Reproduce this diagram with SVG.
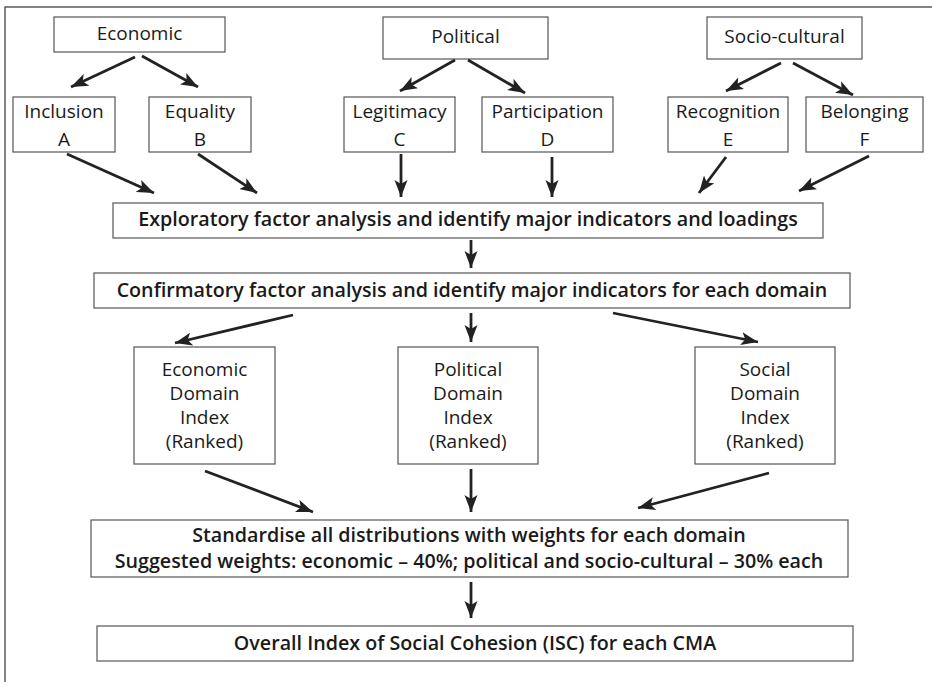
<svg xmlns="http://www.w3.org/2000/svg" width="932" height="682" viewBox="0 0 932 682">
<style>
.box{fill:#fff;stroke:#555;stroke-width:1.2}
.t{font-family:"Open Sans","Liberation Sans",sans-serif;font-size:19px;fill:#1a1a1a;text-anchor:middle}
.b{font-weight:600;font-size:19.7px}
.c{stroke:#222;stroke-width:2.8;fill:none;marker-end:url(#ah)}
</style>
<defs>
<marker id="ah" markerUnits="userSpaceOnUse" markerWidth="20" markerHeight="14" refX="17" refY="6.5" orient="auto">
<path d="M0,0 L17,6.5 L0,13 L4,6.5 z" fill="#222"/>
</marker>
</defs>
<rect x="0" y="0" width="932" height="682" fill="#fff"/>
<rect x="5" y="7" width="940" height="690" fill="none" stroke="#333" stroke-width="1.2"/>

<g id="economic"><rect class="box" x="54" y="17" width="171" height="35"/><text class="t" x="139.5" y="40">Economic</text></g>
<g id="political"><rect class="box" x="383" y="17" width="165" height="42"/><text class="t" x="465.5" y="43">Political</text></g>
<g id="sociocultural"><rect class="box" x="707" y="17" width="155" height="42"/><text class="t" x="784.5" y="43">Socio-cultural</text></g>

<g id="inclusion"><rect class="box" x="13" y="97" width="102" height="55"/><text class="t" x="64" y="118">Inclusion</text><text class="t" x="64" y="146">A</text></g>
<g id="equality"><rect class="box" x="149" y="97" width="102" height="55"/><text class="t" x="200" y="118">Equality</text><text class="t" x="200" y="146">B</text></g>
<g id="legitimacy"><rect class="box" x="344" y="97" width="111" height="55"/><text class="t" x="399.5" y="118">Legitimacy</text><text class="t" x="399.5" y="146">C</text></g>
<g id="participation"><rect class="box" x="482" y="97" width="131" height="55"/><text class="t" x="547.5" y="118">Participation</text><text class="t" x="547.5" y="146">D</text></g>
<g id="recognition"><rect class="box" x="668" y="97" width="120" height="55"/><text class="t" x="728" y="118">Recognition</text><text class="t" x="728" y="146">E</text></g>
<g id="belonging"><rect class="box" x="806" y="97" width="117" height="55"/><text class="t" x="864.5" y="118">Belonging</text><text class="t" x="864.5" y="146">F</text></g>

<g id="exploratory"><rect class="box" x="113" y="203" width="710" height="35"/><text class="t b" x="468" y="226">Exploratory factor analysis and identify major indicators and loadings</text></g>
<g id="confirmatory"><rect class="box" x="94" y="273" width="756" height="35"/><text class="t b" x="472" y="297">Confirmatory factor analysis and identify major indicators for each domain</text></g>

<g id="econdomain"><rect class="box" x="134" y="347" width="141" height="117"/><text class="t" x="204.5" y="376">Economic</text><text class="t" x="204.5" y="400">Domain</text><text class="t" x="204.5" y="424">Index</text><text class="t" x="204.5" y="448">(Ranked)</text></g>
<g id="poldomain"><rect class="box" x="398" y="347" width="140" height="117"/><text class="t" x="468" y="376">Political</text><text class="t" x="468" y="400">Domain</text><text class="t" x="468" y="424">Index</text><text class="t" x="468" y="448">(Ranked)</text></g>
<g id="socdomain"><rect class="box" x="695" y="347" width="140" height="117"/><text class="t" x="765" y="376">Social</text><text class="t" x="765" y="400">Domain</text><text class="t" x="765" y="424">Index</text><text class="t" x="765" y="448">(Ranked)</text></g>

<g id="standardise"><rect class="box" x="91" y="520" width="757" height="57"/><text class="t b" x="469" y="542">Standardise all distributions with weights for each domain</text><text class="t b" x="469" y="568">Suggested weights: economic – 40%; political and socio-cultural – 30% each</text></g>
<g id="overall"><rect class="box" x="97" y="626" width="756" height="35"/><text class="t b" x="475" y="650">Overall Index of Social Cohesion (ISC) for each CMA</text></g>

<g id="connectors">
<line class="c" x1="135" y1="57" x2="71" y2="87"/>
<line class="c" x1="142" y1="56" x2="198" y2="87"/>
<line class="c" x1="455" y1="60" x2="400" y2="91"/>
<line class="c" x1="468" y1="60" x2="525" y2="93"/>
<line class="c" x1="781" y1="63" x2="726" y2="91"/>
<line class="c" x1="793" y1="63" x2="853" y2="95"/>
<line class="c" x1="67" y1="154" x2="154" y2="193"/>
<line class="c" x1="198" y1="154" x2="257" y2="193"/>
<line class="c" x1="401" y1="154" x2="401" y2="197"/>
<line class="c" x1="552" y1="157" x2="552" y2="197"/>
<line class="c" x1="726" y1="157" x2="699" y2="193"/>
<line class="c" x1="869" y1="156" x2="799" y2="191"/>
<line class="c" x1="471" y1="240" x2="471" y2="268"/>
<line class="c" x1="293" y1="315" x2="175" y2="343"/>
<line class="c" x1="471" y1="313" x2="471" y2="342"/>
<line class="c" x1="613" y1="313" x2="758" y2="342"/>
<line class="c" x1="205" y1="471" x2="313" y2="512"/>
<line class="c" x1="471" y1="469" x2="471" y2="512"/>
<line class="c" x1="769" y1="473" x2="638" y2="508"/>
<line class="c" x1="471" y1="582" x2="471" y2="618"/>
</g>
</svg>
